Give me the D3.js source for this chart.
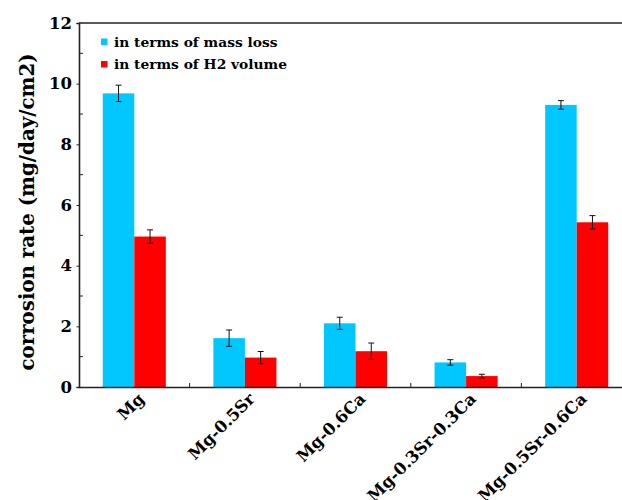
<!DOCTYPE html>
<html>
<head>
<meta charset="utf-8">
<script src="https://cdn.jsdelivr.net/npm/d3@7"></script>
<style>
  html, body { margin: 0; padding: 0; background: #fff; }
  svg { display: block; }
  text { font-family: "DejaVu Serif", serif; font-weight: bold; fill: #000; }
</style>
</head>
<body>
<svg id="chart" width="622" height="500"></svg>
<script>
// Corrosion rate of Mg alloys, two measurement methods
const categories = ["Mg", "Mg-0.5Sr", "Mg-0.6Ca", "Mg-0.3Sr-0.3Ca", "Mg-0.5Sr-0.6Ca"];
const seriesNames = ["in terms of mass loss", "in terms of H2 volume"];
const massLoss    = [9.68, 1.61, 2.10, 0.81, 9.30];
const massLossErr = [0.27, 0.27, 0.20, 0.09, 0.14];
const h2Volume    = [4.96, 0.97, 1.18, 0.36, 5.43];
const h2VolumeErr = [0.22, 0.20, 0.27, 0.06, 0.22];
const yTicks = [0, 2, 4, 6, 8, 10, 12];
const yMinorTicks = [1, 3, 5, 7, 9, 11];
const colors = ["#00C8FF", "#FF0000"];

const svg = d3.select("#chart");
const plotLeft = 79, plotTop = 23, plotBottom = 387, plotRight = 632;

const x = d3.scaleBand().domain(categories).range([plotLeft, plotRight]).padding(0);
const sub = d3.scaleBand().domain(seriesNames)
  .range([x.bandwidth() * 0.215, x.bandwidth() * 0.785]).padding(0);
const y = d3.scaleLinear().domain([0, 12]).range([plotBottom, plotTop]);

const series = [
  { name: seriesNames[0], values: massLoss, errs: massLossErr, color: colors[0] },
  { name: seriesNames[1], values: h2Volume, errs: h2VolumeErr, color: colors[1] }
];

// bars
series.forEach(s => {
  const g = svg.append("g");
  g.selectAll("rect").data(categories).join("rect")
    .attr("x", c => x(c) + sub(s.name))
    .attr("width", sub.bandwidth())
    .attr("y", (c, i) => y(s.values[i]))
    .attr("height", (c, i) => plotBottom - y(s.values[i]))
    .attr("fill", s.color);
});

// error bars
series.forEach(s => {
  const g = svg.append("g").attr("stroke", "#111").attr("stroke-width", 1);
  categories.forEach((c, i) => {
    const cx = x(c) + sub(s.name) + sub.bandwidth() / 2;
    const lo = y(s.values[i] - s.errs[i]), hi = y(s.values[i] + s.errs[i]);
    g.append("line").attr("x1", cx).attr("x2", cx).attr("y1", lo).attr("y2", hi);
    g.append("line").attr("x1", cx - 3).attr("x2", cx + 3).attr("y1", lo).attr("y2", lo);
    g.append("line").attr("x1", cx - 3).attr("x2", cx + 3).attr("y1", hi).attr("y2", hi);
  });
});

// y axis: short outward major ticks, inward minor ticks
const yAxis = svg.append("g").attr("transform", `translate(${plotLeft},0)`)
  .call(d3.axisLeft(y).tickValues(yTicks).tickSize(2.5).tickPadding(4.5));
yAxis.select(".domain").attr("stroke", "#222").attr("stroke-width", 1.6);
yAxis.selectAll(".tick line").attr("stroke", "#222");
yAxis.selectAll(".tick text").style("font-size", "16.5px");
svg.append("g").selectAll("line").data(yMinorTicks).join("line")
  .attr("x1", plotLeft).attr("x2", plotLeft + 4)
  .attr("y1", d => y(d)).attr("y2", d => y(d))
  .attr("stroke", "#222").attr("stroke-width", 1);

// x axis
const xAxis = svg.append("g").attr("transform", `translate(0,${plotBottom})`)
  .call(d3.axisBottom(x).tickSize(0).tickFormat(""));
xAxis.select(".domain").attr("stroke", "#222").attr("stroke-width", 1.6);
svg.append("g").selectAll("line").data(categories.slice(1)).join("line")
  .attr("x1", c => x(c)).attr("x2", c => x(c))
  .attr("y1", plotBottom).attr("y2", plotBottom - 4)
  .attr("stroke", "#222").attr("stroke-width", 1);
svg.append("g").selectAll("text").data(categories).join("text")
  .attr("transform", c => `translate(${x(c) + x.bandwidth() / 2 + 11},${plotBottom + 13}) rotate(-45)`)
  .attr("text-anchor", "end")
  .style("font-size", "16.5px")
  .text(c => c);

// top frame line
svg.append("line").attr("x1", plotLeft).attr("x2", plotRight).attr("y1", plotTop).attr("y2", plotTop)
  .attr("stroke", "#222").attr("stroke-width", 1.6);

// y axis title
svg.append("text")
  .attr("transform", `translate(34,212) rotate(-90)`)
  .attr("text-anchor", "middle")
  .style("font-size", "19.8px")
  .text("corrosion rate (mg/day/cm2)");

// legend
const legend = svg.append("g");
series.forEach((s, i) => {
  const ly = 42 + i * 22.5;
  legend.append("rect").attr("x", 101).attr("y", ly - 3.5).attr("width", 6.5).attr("height", 6.5)
    .attr("fill", s.color);
  legend.append("text").attr("x", 114).attr("y", ly + 4.8)
    .style("font-size", "13.8px").text(s.name);
});
</script>
</body>
</html>
